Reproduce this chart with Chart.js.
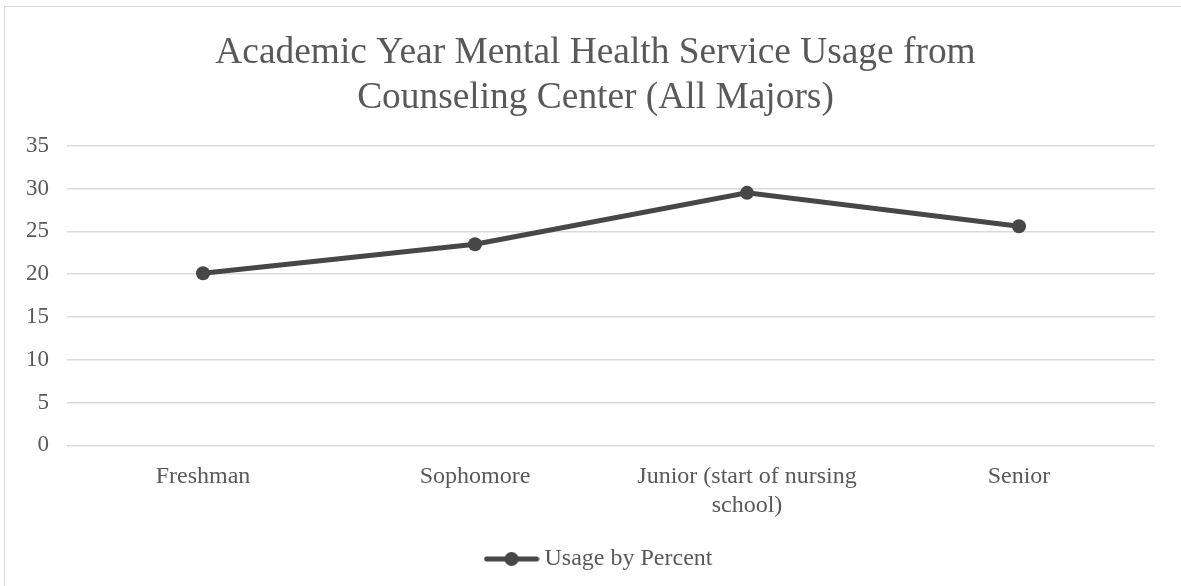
<!DOCTYPE html>
<html>
<head>
<meta charset="utf-8">
<script src="https://cdn.jsdelivr.net/npm/chart.js@4.4.1/dist/chart.umd.min.js"></script>
<style>
  html, body { margin: 0; padding: 0; background: #fff; }
  #wrap { width: 1181px; height: 586px; position: relative; }
</style>
</head>
<body>
<div id="wrap"><canvas id="usageChart"></canvas></div>
<script>
// data
const categories = ['Freshman', 'Sophomore', ['Junior (start of nursing', 'school)'], 'Senior'];
const usageByPercent = [20.1, 23.5, 29.5, 25.6];
const seriesName = 'Usage by Percent';
const titleLines = ['Academic Year Mental Health Service Usage from', 'Counseling Center (All Majors)'];

const lineColor = '#474747';
const textColor = '#595959';
const serif = '"Liberation Serif", "Times New Roman", serif';

// icon cho legend: đường + chấm tròn
function makeLegendIcon() {
    const c = document.createElement('canvas');
    c.width = 56;
    c.height = 16;
    const g = c.getContext('2d');
    g.strokeStyle = lineColor;
    g.lineWidth = 5;
    g.lineCap = 'round';
    g.beginPath();
    g.moveTo(3, 8);
    g.lineTo(53, 8);
    g.stroke();
    g.fillStyle = lineColor;
    g.beginPath();
    g.arc(28, 8, 7, 0, Math.PI * 2);
    g.fill();
    return c;
}
const legendIcon = makeLegendIcon();

// khung viền ngoài
const frame = {
    id: 'frame',
    beforeDraw(chart) {
        const c = chart.ctx;
        c.save();
        c.strokeStyle = '#d9d9d9';
        c.lineWidth = 1;
        c.strokeRect(4.5, 6.5, 1200, 600);
        c.restore();
    }
};

// căn giữa tiêu đề và chú thích theo cả khung (không tính padding phải)
const recenter = {
    id: 'recenter',
    afterLayout(chart) {
        if (chart.titleBlock) chart.titleBlock.left += 36;
        if (chart.legend) chart.legend.left += 48;
    }
};

const config = {
    type: 'line',
    data: {
        labels: categories,
        datasets: [{
            label: seriesName,
            data: usageByPercent,
            borderColor: lineColor,
            backgroundColor: lineColor,
            borderWidth: 5,
            pointRadius: 7,
            pointHoverRadius: 7,
            pointBackgroundColor: lineColor,
            pointBorderWidth: 0,
            tension: 0
        }]
    },
    options: {
        responsive: true,
        maintainAspectRatio: false,
        animation: false,
        layout: { padding: { left: 0, right: 26, top: 0, bottom: 5 } },
        plugins: {
            title: {
                display: true,
                text: titleLines,
                color: textColor,
                font: { family: serif, size: 37.4, weight: 'normal', lineHeight: 1.2 },
                padding: { top: 31, bottom: 25 }
            },
            legend: {
                position: 'bottom',
                labels: {
                    color: textColor,
                    font: { family: serif, size: 24 },
                    usePointStyle: true,
                    pointStyleWidth: 42,
                    padding: 10,
                    generateLabels(chart) {
                        return chart.data.datasets.map((ds, i) => ({
                            text: ds.label,
                            fontColor: textColor,
                            pointStyle: legendIcon,
                            datasetIndex: i,
                            lineWidth: 0
                        }));
                    }
                }
            },
            tooltip: { enabled: false }
        },
        scales: {
            x: {
                offset: true,
                grid: { display: false, drawTicks: false },
                border: { display: false },
                ticks: {
                    color: textColor,
                    font: { family: serif, size: 24 },
                    padding: 17,
                    maxRotation: 0,
                    autoSkip: false
                }
            },
            y: {
                min: 0,
                max: 35,
                grid: { color: '#d9d9d9', lineWidth: 1.5, drawTicks: false },
                border: { display: false },
                ticks: {
                    stepSize: 5,
                    color: textColor,
                    font: { family: serif, size: 23 },
                    padding: 18
                },
                afterFit(scale) { scale.width = 67; }
            }
        }
    },
    plugins: [frame, recenter]
};

const ctx = document.getElementById('usageChart').getContext('2d');
const usageChart = new Chart(ctx, config);
</script>
</body>
</html>
